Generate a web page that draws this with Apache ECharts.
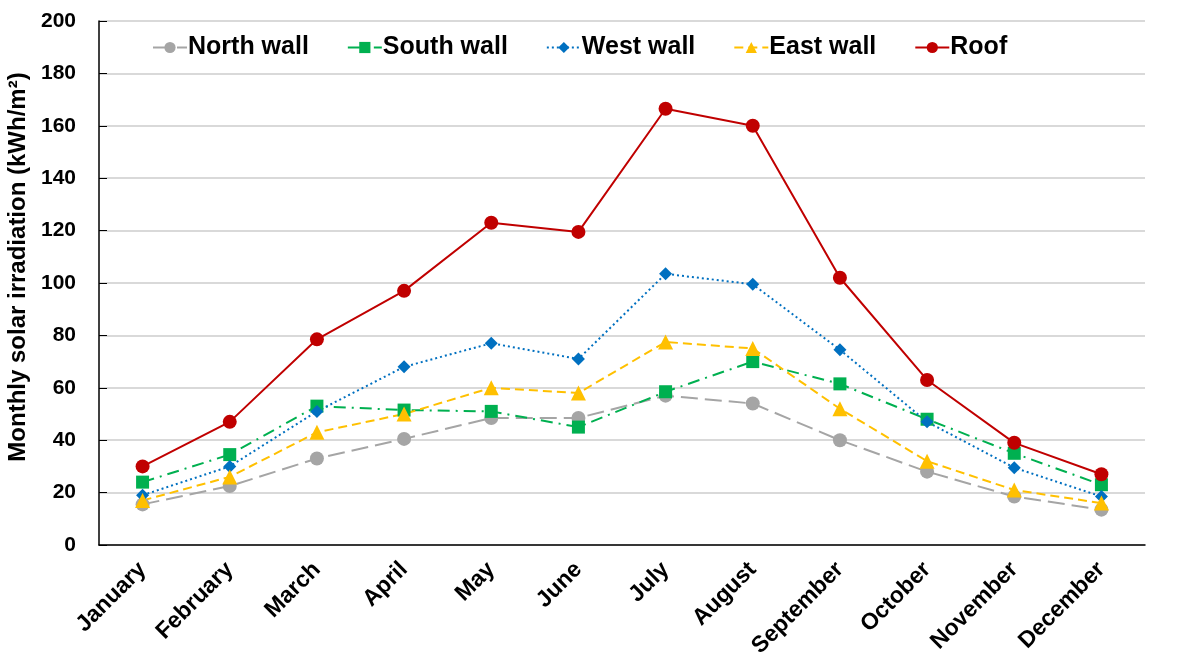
<!DOCTYPE html>
<html><head><meta charset="utf-8">
<script src="https://cdn.jsdelivr.net/npm/echarts@6/dist/echarts.min.js"></script>
<style>html,body{margin:0;padding:0;background:#fff}#c{width:1184px;height:668px}</style>
</head><body><div id="c"></div>
<script>
const months = ['January','February','March','April','May','June','July','August','September','October','November','December'];
const north = [15.5,22.5,33,40.5,48.5,48.5,57,54,40,28,18.5,13.5];
const south = [24,34.5,53,51.5,51,45,58.5,70,61.5,48,35,23];
const west  = [19,30,51,68,77,71,103.5,99.5,74.5,47,29.5,18.5];
const east  = [17,26,43,50,60,58,77.5,75,52,32,21,16];
const roof  = [30,47,78.5,97,123,119.5,166.5,160,102,63,39,27];
const yTicks = {min:0,max:200,interval:20};

const font = 'Liberation Sans, Arial, sans-serif';
function s(name,data,color,symbol,size,type){
  return {name,type:'line',data,symbol,symbolSize:size,
    itemStyle:{color},lineStyle:{color,width:2,type},emphasis:{disabled:true},z: name==='Roof'?10:5};
}
const chart = echarts.init(document.getElementById('c'));
chart.setOption({
  animation:false,
  textStyle:{fontFamily:font},
  grid:{left:99,right:39,top:21,bottom:123,containLabel:false,outerBoundsMode:'none'},
  legend:{top:30,left:147,itemGap:38,itemWidth:34,itemHeight:14,
    textStyle:{fontFamily:font,fontWeight:'bold',fontSize:25,color:'#000',padding:[0,0,0,-4]}},
  xAxis:{type:'category',data:months,boundaryGap:true,
    axisLine:{lineStyle:{color:'#000',width:1.5}},
    axisTick:{inside:true,length:8,lineStyle:{color:'#000'}},
    axisLabel:{rotate:45,fontFamily:font,fontWeight:'bold',fontSize:23,color:'#000',margin:21}},
  yAxis:{type:'value',min:yTicks.min,max:yTicks.max,interval:yTicks.interval,
    name:'Monthly solar irradiation (kWh/m²)',nameLocation:'middle',nameGap:66,
    nameTextStyle:{fontFamily:font,fontWeight:'bold',fontSize:24,color:'#000',padding:[0,0,0,32]},
    axisLine:{show:true,lineStyle:{color:'#000',width:1.5}},
    axisTick:{show:true,inside:true,length:8,lineStyle:{color:'#000'}},
    splitLine:{lineStyle:{color:'#d9d9d9',width:2}},
    axisLabel:{fontFamily:font,fontWeight:'bold',fontSize:21,color:'#000',margin:23}},
  series:[
    s('North wall',north,'#A5A5A5','circle',14,[17,7]),
    s('South wall',south,'#00B050','rect',13,[12,6,2,6]),
    s('West wall',west,'#0070C0','diamond',13,[2,3]),
    s('East wall',east,'#FFC000','triangle',15,[9,5]),
    s('Roof',roof,'#C00000','circle',14,'solid')
  ]
});
</script></body></html>
